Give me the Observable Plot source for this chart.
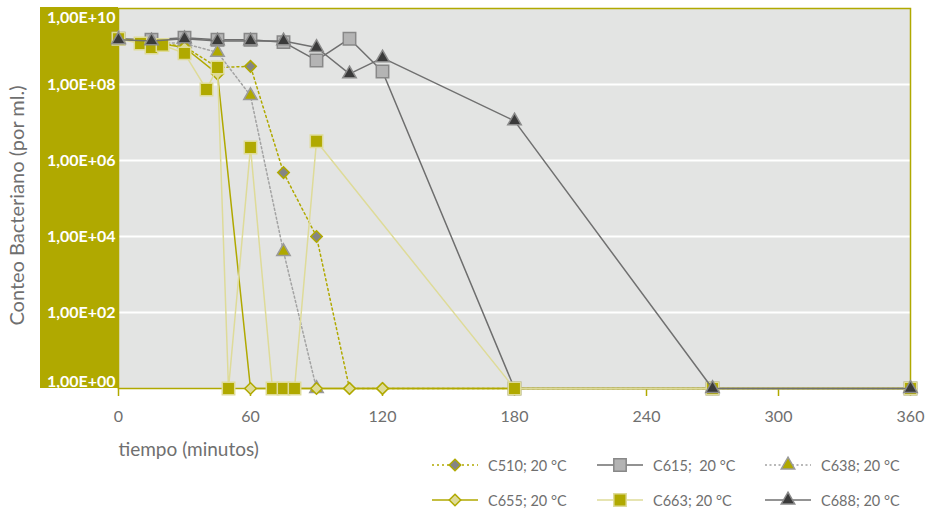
<!DOCTYPE html>
<html><head><meta charset="utf-8">
<script src="https://cdn.jsdelivr.net/npm/d3@7"></script>
<script src="https://cdn.jsdelivr.net/npm/@observablehq/plot@0.6"></script>
<style>
body{margin:0;background:#fff;font-family:Lato,"Open Sans",sans-serif;}
#wrap{position:relative;width:932px;height:513px;overflow:hidden;}
#band{position:absolute;left:40px;top:7px;width:78px;height:381px;background:#b0a900;}
#chart{position:absolute;left:0;top:0;}
.lg{position:absolute;display:flex;align-items:center;font-size:14.5px;color:#6f6f6f;white-space:pre;height:20px;}
.lg svg{margin-right:10px;overflow:visible;}
</style></head>
<body>
<div id="wrap"><div id="band"></div><div id="chart"></div></div>
<script>
// ---- data (minutes, bacteria per ml) ----
const xTicks = [0, 60, 120, 180, 240, 300, 360];
const yTicks = [1, 1e2, 1e4, 1e6, 1e8, 1e10];

const tC510 = [0, 15, 30, 45, 60, 75, 90, 105, 120, 180, 270, 360];
const vC510 = [1.6e9, 1.3e9, 1.0e9, 2.8e8, 3.0e8, 4.8e5, 1e4, 1, 1, 1, 1, 1];

const tC615 = [0, 15, 30, 45, 60, 75, 90, 105, 120, 180, 270, 360];
const vC615 = [1.6e9, 1.5e9, 1.7e9, 1.5e9, 1.5e9, 1.3e9, 4.3e8, 1.6e9, 2.2e8, 1, 1, 1];

const tC638 = [0, 15, 30, 45, 60, 75, 90];
const vC638 = [1.6e9, 1.3e9, 1.2e9, 7e8, 5.1e7, 4e3, 1];

const tC655 = [0, 15, 30, 45, 60, 90, 105, 120, 180, 270, 360];
const vC655 = [1.6e9, 1.3e9, 9.4e8, 1.9e8, 1, 1, 1, 1, 1, 1, 1];

const tC663 = [0, 10, 15, 20, 30, 40, 45, 50, 60, 70, 75, 80, 90, 180, 270, 360];
const vC663 = [1.6e9, 1.2e9, 9.4e8, 1.1e9, 6.6e8, 7.4e7, 2.8e8, 1, 2.2e6, 1, 1, 1, 3.2e6, 1, 1, 1];

const tC688 = [0, 15, 30, 45, 60, 75, 90, 105, 120, 180, 270, 360];
const vC688 = [1.5e9, 1.4e9, 1.6e9, 1.4e9, 1.4e9, 1.4e9, 9.4e8, 1.9e8, 5e8, 1.1e7, 1, 1];

const names = ["C510; 20 °C", "C615;  20 °C", "C638; 20 °C", "C655; 20 °C", "C663; 20 °C", "C688; 20 °C"];

// ---- styles ----
const olive = "#b0a900", light = "#dedb98", bg = "#e3e4e3", txt = "#6f6f6f";
const styles = [
  {t: tC510, v: vC510, line: olive, dash: "2,3", symbol: "diamond2", r: 5.2, fill: "#858585", stroke: olive},
  {t: tC615, v: vC615, line: "#6e6e6e", dash: null, symbol: "square", r: 7, fill: "#b4b4b4", stroke: "#888888"},
  {t: tC638, v: vC638, line: "#a3a3a3", dash: "2,2.5", symbol: "triangle", r: 5, fill: olive, stroke: "#9a9a9a"},
  {t: tC655, v: vC655, line: olive, dash: null, symbol: "diamond2", r: 5.2, fill: light, stroke: olive},
  {t: tC663, v: vC663, line: light, dash: null, symbol: "square", r: 7, fill: olive, stroke: light},
  {t: tC688, v: vC688, line: "#707070", dash: null, symbol: "triangle", r: 5, fill: "#3a3a3a", stroke: "#8a8a8a"}
];

const fmt = d => "1,00E+" + String(Math.round(Math.log10(d))).padStart(2, "0");

const seriesMarks = styles.flatMap((s, i) => {
  const rows = s.t.map((t, j) => ({t, v: s.v[j], name: names[i]}));
  return [
    Plot.line(rows, {x: "t", y: "v", stroke: s.line, strokeWidth: 1.5, strokeDasharray: s.dash, curve: "linear"}),
    Plot.dot(rows, {x: "t", y: "v", symbol: s.symbol, r: s.r, fill: s.fill, stroke: s.stroke, strokeWidth: 1.5})
  ];
});

const axisFont = {fill: "#fff", fontWeight: "bold", fontSize: 16, tickSize: 0, tickPadding: 3, tickFormat: fmt, label: null};

const chart = Plot.plot({
  width: 932, height: 513,
  marginLeft: 118, marginRight: 22, marginTop: 8, marginBottom: 125,
  style: {background: "transparent", fontFamily: "Lato, 'Open Sans', sans-serif", overflow: "visible"},
  x: {domain: [0, 360]},
  y: {type: "log", domain: [1, 1e10]},
  marks: [
    Plot.frame({fill: bg}),
    Plot.gridY(yTicks.slice(1, -1), {stroke: "#fff", strokeOpacity: 1, strokeWidth: 2}),
    Plot.frame({stroke: olive, strokeWidth: 1.5}),
    Plot.axisY(yTicks.slice(1, -1), axisFont),
    Plot.axisY([1e10], {...axisFont, dy: 9}),
    Plot.axisY([1], {...axisFont, dy: -7}),
    Plot.axisX(xTicks, {tickSize: 8, stroke: olive, strokeWidth: 1.5, fill: txt, fontSize: 16, tickPadding: 14, label: null}),
    Plot.text(["tiempo (minutos)"], {frameAnchor: "bottom-left", dy: 67, textAnchor: "start", fill: txt, fontSize: 19}),
    Plot.text(["Conteo Bacteriano (por ml.)"], {frameAnchor: "left", rotate: -90, textAnchor: "middle", dx: -101, dy: 7, fill: txt, fontSize: 20}),
    ...seriesMarks
  ]
});
document.getElementById("chart").appendChild(chart);

// ---- legend (HTML, below the plot area) ----
const wrap = document.getElementById("wrap");
const colX = [432, 597, 765], rowY = [455, 490];
styles.forEach((s, i) => {
  const div = document.createElement("div");
  div.className = "lg";
  div.style.left = colX[i % 3] + "px";
  div.style.top = rowY[Math.floor(i / 3)] + "px";
  const sym = {diamond2: d3.symbolDiamond2, square: d3.symbolSquare, triangle: d3.symbolTriangle}[s.symbol];
  const path = d3.symbol(sym, Math.PI * s.r * s.r)();
  div.innerHTML = `<svg width="46" height="20"><line x1="0" x2="46" y1="10" y2="10" stroke="${s.line}" stroke-width="1.5" ${s.dash ? `stroke-dasharray="${s.dash}"` : ""}/><path transform="translate(23,10)" d="${path}" fill="${s.fill}" stroke="${s.stroke}" stroke-width="1.5"/></svg><span>${names[i]}</span>`;
  wrap.appendChild(div);
});
</script>
</body></html>
